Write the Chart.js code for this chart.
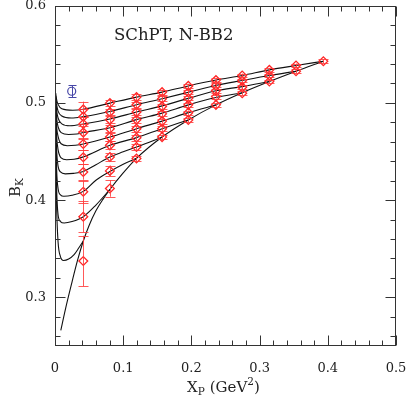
<!DOCTYPE html>
<html><head><meta charset="utf-8">
<script src="https://cdn.jsdelivr.net/npm/chart.js@4"></script>
<style>html,body{margin:0;padding:0;background:#fff;}#wrap{width:407px;height:395px;}</style>
</head><body><div id="wrap"><canvas id="c" width="407" height="395"></canvas></div>
<script>
// ---- data ----
const xP = [0.0415, 0.0805, 0.1195, 0.157, 0.1955, 0.236, 0.2745, 0.3143, 0.3534, 0.3935];
// B_K values per X_P column (bottom row first)
const bkCol1 = [0.3374, 0.3829, 0.4087, 0.4290, 0.4441, 0.4578, 0.4695, 0.4783, 0.4859, 0.4933];
const bkCol2 = [0.4120, 0.4301, 0.4444, 0.4564, 0.4649, 0.4735, 0.4828, 0.4906, 0.4998];
const bkCol3 = [0.4428, 0.4547, 0.4643, 0.4735, 0.4828, 0.4906, 0.4982, 0.5060];
const bkCol4 = [0.4649, 0.4735, 0.4813, 0.4889, 0.4964, 0.5043, 0.5111];
const bkCol5 = [0.4825, 0.4900, 0.4980, 0.5047, 0.5110, 0.5175];
const bkCol6 = [0.4980, 0.5065, 0.5125, 0.5180, 0.5235];
const bkCol7 = [0.5100, 0.5162, 0.5231, 0.5282];
const bkCol8 = [0.5220, 0.5282, 0.5340];
const bkCol9 = [0.5326, 0.5385];
const bkCol10 = [0.5429];
const errCol1 = [0.026, 0.016, 0.0115, 0.008, 0.007, 0.0065, 0.0065, 0.007, 0.0075, 0.008];
const errCol2 = [0.0085, 0.0055, 0.0045, 0.004, 0.004, 0.0035, 0.0035, 0.003, 0.003];
const errCol3 = [0.003, 0.003, 0.003, 0.003, 0.003, 0.003, 0.003, 0.003];
const errCol4 = [0.0025, 0.0025, 0.0025, 0.0025, 0.0025, 0.0025, 0.0025];
const errCol5 = [0.0022, 0.0022, 0.0022, 0.0022, 0.0022, 0.0022];
const errCol6 = [0.002, 0.002, 0.002, 0.002, 0.002];
const errCol7 = [0.002, 0.002, 0.002, 0.002];
const errCol8 = [0.002, 0.002, 0.002];
const errCol9 = [0.002, 0.002];
const errCol10 = [0.002];
// blue reference point
const refPoint = [0.0245, 0.512];
const refErr = [0.0064];
// fitted curves [X_P, B_K]
const curve1 = [[0.001,0.45],[0.0025,0.39],[0.0045,0.357],[0.008,0.342],[0.0125,0.338],[0.02,0.3395],[0.028,0.344],[0.035,0.351],[0.0415,0.358]];
const curve2 = [[0.001,0.465],[0.0025,0.41],[0.0045,0.385],[0.008,0.378],[0.0135,0.3765],[0.025,0.378],[0.0415,0.383],[0.06,0.395],[0.0805,0.411]];
const curve3 = [[0.001,0.475],[0.0025,0.43],[0.0045,0.412],[0.008,0.4055],[0.013,0.404],[0.025,0.405],[0.0415,0.409],[0.06,0.4205],[0.0805,0.4295],[0.1,0.437],[0.1195,0.443]];
const curve4 = [[0.001,0.483],[0.0025,0.45],[0.0045,0.435],[0.008,0.429],[0.015,0.427],[0.027,0.4275],[0.0415,0.4295],[0.06,0.4365],[0.0805,0.4444],[0.1,0.4497],[0.1195,0.4547],[0.14,0.46],[0.157,0.4649]];
const curve5 = [[0.001,0.49],[0.0025,0.465],[0.0045,0.452],[0.009,0.4435],[0.017,0.4415],[0.028,0.442],[0.0415,0.4445],[0.0805,0.4564],[0.1195,0.4643],[0.157,0.4735],[0.1955,0.4825]];
const curve6 = [[0.001,0.496],[0.0025,0.475],[0.0045,0.4655],[0.009,0.458],[0.018,0.456],[0.03,0.4565],[0.0415,0.4578],[0.0805,0.4649],[0.1195,0.4735],[0.157,0.4813],[0.1955,0.49],[0.236,0.498]];
const curve7 = [[0.001,0.5],[0.0025,0.484],[0.0045,0.4755],[0.009,0.4695],[0.02,0.4675],[0.032,0.468],[0.0415,0.4695],[0.0805,0.4745],[0.1195,0.4828],[0.157,0.4895],[0.1955,0.498],[0.236,0.5055],[0.2745,0.5105]];
const curve8 = [[0.001,0.504],[0.0025,0.492],[0.0045,0.4845],[0.01,0.4785],[0.022,0.4765],[0.0415,0.4783],[0.0805,0.4835],[0.1195,0.4906],[0.157,0.497],[0.1955,0.5047],[0.236,0.5125],[0.2745,0.5168],[0.3143,0.522]];
const curve9 = [[0.001,0.507],[0.0025,0.498],[0.0045,0.4915],[0.01,0.4865],[0.024,0.4845],[0.0415,0.4859],[0.0805,0.4912],[0.1195,0.4982],[0.157,0.5043],[0.1955,0.511],[0.236,0.518],[0.2745,0.5231],[0.3143,0.5282],[0.3534,0.5326]];
const curve10 = [[0.001,0.51],[0.0025,0.503],[0.0045,0.4985],[0.01,0.494],[0.026,0.4925],[0.0415,0.4935],[0.0805,0.4998],[0.1195,0.506],[0.157,0.5111],[0.1955,0.5175],[0.236,0.5235],[0.2745,0.5282],[0.3143,0.534],[0.3534,0.5385],[0.3935,0.5429]];
const envelope = [[0.0085,0.266],[0.015,0.287],[0.025,0.316],[0.033,0.338],[0.0415,0.358],[0.05,0.374],[0.06,0.389],[0.07,0.4005],[0.0805,0.411],[0.1,0.428],[0.1195,0.443],[0.157,0.4649],[0.1955,0.4825],[0.236,0.498],[0.2745,0.5105],[0.3143,0.522],[0.3534,0.5326],[0.3935,0.5429]];
// axes
const xMajorTicks = [0, 0.1, 0.2, 0.3, 0.4, 0.5];
const xTickLabels = ['0', '0.1', '0.2', '0.3', '0.4', '0.5'];
const xMinorTicks = [0.02,0.04,0.06,0.08,0.12,0.14,0.16,0.18,0.22,0.24,0.26,0.28,0.32,0.34,0.36,0.38,0.42,0.44,0.46,0.48];
const yMajorTicks = [0.3, 0.4, 0.5, 0.6];
const yTickLabels = ['0.3', '0.4', '0.5', '0.6'];
const yMinorTicks = [0.26,0.28,0.32,0.34,0.36,0.38,0.42,0.44,0.46,0.48,0.52,0.54,0.56,0.58];

// ---- build datasets ----
const cols = [bkCol1,bkCol2,bkCol3,bkCol4,bkCol5,bkCol6,bkCol7,bkCol8,bkCol9,bkCol10];
const errs = [errCol1,errCol2,errCol3,errCol4,errCol5,errCol6,errCol7,errCol8,errCol9,errCol10];
const pts = [], ptErr = [];
cols.forEach((c,i)=>c.forEach((v,j)=>{pts.push({x:xP[i], y:v}); ptErr.push(errs[i][j]);}));
const curves = [curve1,curve2,curve3,curve4,curve5,curve6,curve7,curve8,curve9,curve10,envelope];
const FONT = "'DejaVu Serif', serif";
const RED = '#ff2626';

const datasets = curves.map(cv => ({
  type:'line', data: cv.map(p=>({x:p[0], y:p[1]})),
  borderColor:'#111', borderWidth:1.1, pointRadius:0, fill:false,
  cubicInterpolationMode:'monotone', order:3
}));
datasets.push({type:'scatter', data:pts, errors:ptErr, errColor:'rgba(255,60,60,0.85)', capW:5,
  pointStyle:'rectRot', pointRadius:4.4, borderColor:RED, backgroundColor:'rgba(0,0,0,0)', borderWidth:1.3, order:1});
datasets.push({type:'scatter', data:[{x:refPoint[0], y:refPoint[1]}], errors:refErr, errColor:'#4848a8', capW:4,
  pointStyle:'circle', pointRadius:4, borderColor:'#4848a8', backgroundColor:'rgba(0,0,0,0)', borderWidth:1.2, order:1});

const errorBars = {
  id:'errorBars',
  afterDatasetsDraw(chart){
    const ctx = chart.ctx, ys = chart.scales.y, xs = chart.scales.x;
    chart.data.datasets.forEach(ds=>{
      if(!ds.errors) return;
      ctx.save(); ctx.strokeStyle = ds.errColor; ctx.lineWidth = 1;
      ds.data.forEach((p,i)=>{
        const px = Math.round(xs.getPixelForValue(p.x))+0.5;
        const y1 = ys.getPixelForValue(p.y - ds.errors[i]);
        const y2 = ys.getPixelForValue(p.y + ds.errors[i]);
        ctx.beginPath();
        ctx.moveTo(px,y1); ctx.lineTo(px,y2);
        ctx.moveTo(px-ds.capW,Math.round(y1)+0.5); ctx.lineTo(px+ds.capW,Math.round(y1)+0.5);
        ctx.moveTo(px-ds.capW,Math.round(y2)+0.5); ctx.lineTo(px+ds.capW,Math.round(y2)+0.5);
        ctx.stroke();
      });
      ctx.restore();
    });
  }
};

const frame = {
  id:'frame',
  afterDraw(chart){
    const ctx = chart.ctx, a = chart.chartArea, xs = chart.scales.x, ys = chart.scales.y;
    ctx.save();
    ctx.strokeStyle = '#333'; ctx.lineWidth = 1;
    const L = Math.round(a.left)+0.5, R = Math.round(a.right)-0.5, T = Math.round(a.top)+0.5, B = Math.round(a.bottom)-0.5;
    ctx.strokeRect(L, T, R-L, B-T);
    ctx.beginPath();
    const xt = (v,len)=>{ const p = Math.round(xs.getPixelForValue(v))+0.5; ctx.moveTo(p,B); ctx.lineTo(p,B-len); ctx.moveTo(p,T); ctx.lineTo(p,T+len); };
    const yt = (v,len)=>{ const p = Math.round(ys.getPixelForValue(v))+0.5; ctx.moveTo(L,p); ctx.lineTo(L+len,p); ctx.moveTo(R,p); ctx.lineTo(R-len,p); };
    xMajorTicks.forEach(v=>xt(v,10)); xMinorTicks.forEach(v=>xt(v,5));
    yMajorTicks.forEach(v=>yt(v,10)); yMinorTicks.forEach(v=>yt(v,5));
    ctx.stroke();
    // texts
    ctx.fillStyle = '#222';
    ctx.textBaseline = 'alphabetic';
    ctx.textAlign = 'left';
    // annotation
    ctx.font = '16.5px ' + FONT;
    ctx.fillText('SChPT, N-BB2', 114, 40);
    // x title
    let x = 187, yb = 392;
    ctx.font = '15px ' + FONT; ctx.fillText('X', x, yb); x += ctx.measureText('X').width;
    ctx.font = '10.5px ' + FONT; ctx.fillText('P', x, yb+3); x += ctx.measureText('P').width + 5;
    ctx.font = '15px ' + FONT; ctx.fillText('(GeV', x, yb); x += ctx.measureText('(GeV').width;
    ctx.font = '10.5px ' + FONT; ctx.fillText('2', x, yb-7); x += ctx.measureText('2').width;
    ctx.font = '15px ' + FONT; ctx.fillText(')', x, yb);
    // y title
    ctx.translate(20, 197); ctx.rotate(-Math.PI/2);
    ctx.font = '15px ' + FONT; ctx.fillText('B', 0, 0); let w = ctx.measureText('B').width;
    ctx.font = '10.5px ' + FONT; ctx.fillText('K', w, 3);
    ctx.restore();
  }
};

new Chart(document.getElementById('c'), {
  data:{ datasets },
  options:{
    responsive:false, animation:false, events:[],
    layout:{ padding:{ top:5, right:11, left:0, bottom:0 } },
    plugins:{ legend:{display:false}, tooltip:{enabled:false} },
    scales:{
      x:{ type:'linear', min:0, max:0.5, position:'bottom',
        grid:{display:false, drawTicks:false}, border:{display:false},
        afterBuildTicks: s => { s.ticks = xMajorTicks.map(v=>({value:v})); },
        afterFit: s => { s.height = 49; s.paddingLeft = 0; s.paddingRight = 0; },
        ticks:{ autoSkip:false, maxRotation:0, padding:15, color:'#222', font:{family:FONT, size:13},
          callback:(v)=>{ const i = xMajorTicks.findIndex(t=>Math.abs(t-v)<1e-9); return i>=0 ? xTickLabels[i] : ''; } } },
      y:{ type:'linear', min:0.25, max:0.6, position:'left',
        grid:{display:false, drawTicks:false}, border:{display:false},
        afterBuildTicks: s => { s.ticks = yMajorTicks.map(v=>({value:v})); },
        afterFit: s => { s.width = 55; s.paddingTop = 0; s.paddingBottom = 0; },
        ticks:{ autoSkip:false, padding:9, color:'#222', font:{family:FONT, size:13},
          callback:(v)=>{ const i = yMajorTicks.findIndex(t=>Math.abs(t-v)<1e-9); return i>=0 ? yTickLabels[i] : ''; } } }
    }
  },
  plugins:[errorBars, frame]
});
</script></body></html>
